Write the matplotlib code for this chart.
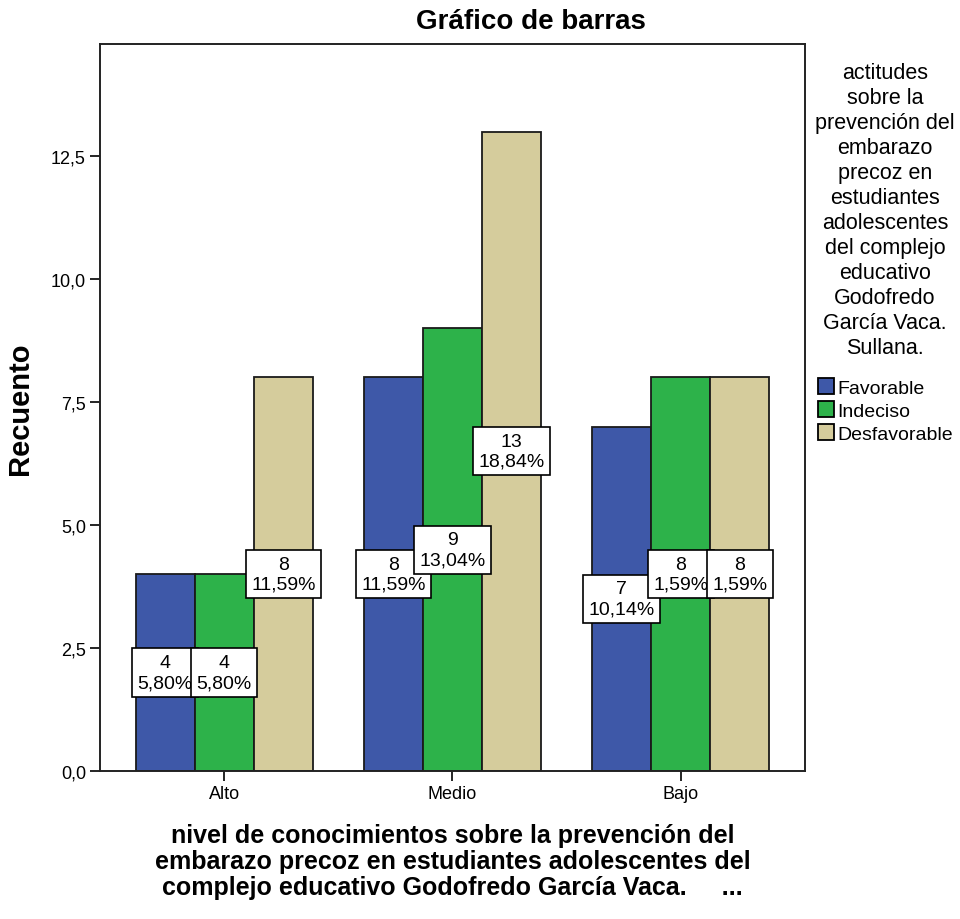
import numpy as np
import matplotlib.pyplot as plt

plt.rcParams['font.family'] = ['Liberation Sans', 'DejaVu Sans']

niveles = ["Alto", "Medio", "Bajo"]
actitudes = ["Favorable", "Indeciso", "Desfavorable"]
favorable = [4, 8, 7]
indeciso = [4, 9, 8]
desfavorable = [8, 13, 8]
# etiquetas tal como aparecen (algunas recortadas en el original)
lab_fav = ["4\n5,80%", "8\n11,59%", "7\n10,14%"]
lab_ind = ["4\n5,80%", "9\n13,04%", "8\n1,59%"]
lab_des = ["8\n11,59%", "13\n18,84%", "8\n1,59%"]

colores = ["#3E58A8", "#2DB24A", "#D5CC9C"]
series = [favorable, indeciso, desfavorable]
etiquetas = [lab_fav, lab_ind, lab_des]

fig = plt.figure(figsize=(9.6, 9.2), dpi=100)
ax = fig.add_axes([0.104, 0.161, 0.7345, 0.79])

x = np.arange(len(niveles))
w = 0.259
for i, (vals, labs) in enumerate(zip(series, etiquetas)):
    pos = x + (i - 1) * w
    ax.bar(pos, vals, width=w, color=colores[i], edgecolor="#1a1a1a",
           linewidth=1.3, label=actitudes[i], zorder=2)
    for p, v, t in zip(pos, vals, labs):
        ax.text(p, v / 2, t, ha="center", va="center", fontsize=14,
                linespacing=1.25, zorder=3,
                bbox=dict(boxstyle="square,pad=0.28", fc="white", ec="black", lw=1.2))

ax.set_xlim(-0.545, 2.545)
ax.set_ylim(0, 14.78)
yt = np.arange(0, 13, 2.5)
ax.set_yticks(yt)
ax.set_yticklabels([f"{v:.1f}".replace(".", ",") for v in yt])
ax.set_xticks(x)
ax.set_xticklabels(niveles)
ax.tick_params(axis="both", labelsize=13, length=7, width=1.2, colors="black", pad=3)
for s in ax.spines.values():
    s.set_linewidth(1.4)
    s.set_color("#222222")

ax.set_ylabel("Recuento", fontsize=21, fontweight="bold")
ax.yaxis.set_label_coords(-0.093, 0.5)
ax.set_xlabel("nivel de conocimientos sobre la prevención del\n"
              "embarazo precoz en estudiantes adolescentes del\n"
              "complejo educativo Godofredo García Vaca.     ...",
              fontsize=18, fontweight="bold", labelpad=15, linespacing=1.12)
fig.text(0.553, 0.976, "Gráfico de barras", ha="center", va="center",
         fontsize=20, fontweight="bold")

fig.text(0.922, 0.932,
         "actitudes\nsobre la\nprevención del\nembarazo\nprecoz en\nestudiantes\n"
         "adolescentes\ndel complejo\neducativo\nGodofredo\nGarcía Vaca.\nSullana.",
         ha="center", va="top", fontsize=15.5, linespacing=1.25)

leg = ax.legend(loc="upper left", bbox_to_anchor=(0.852, 0.588),
                bbox_transform=fig.transFigure, frameon=False, fontsize=14,
                handlelength=0.85, handleheight=0.9, handletextpad=0.15,
                labelspacing=0.22, borderaxespad=0, borderpad=0)
for h in leg.legend_handles:
    h.set_edgecolor("black")

fig.savefig("out.png", dpi=100)
